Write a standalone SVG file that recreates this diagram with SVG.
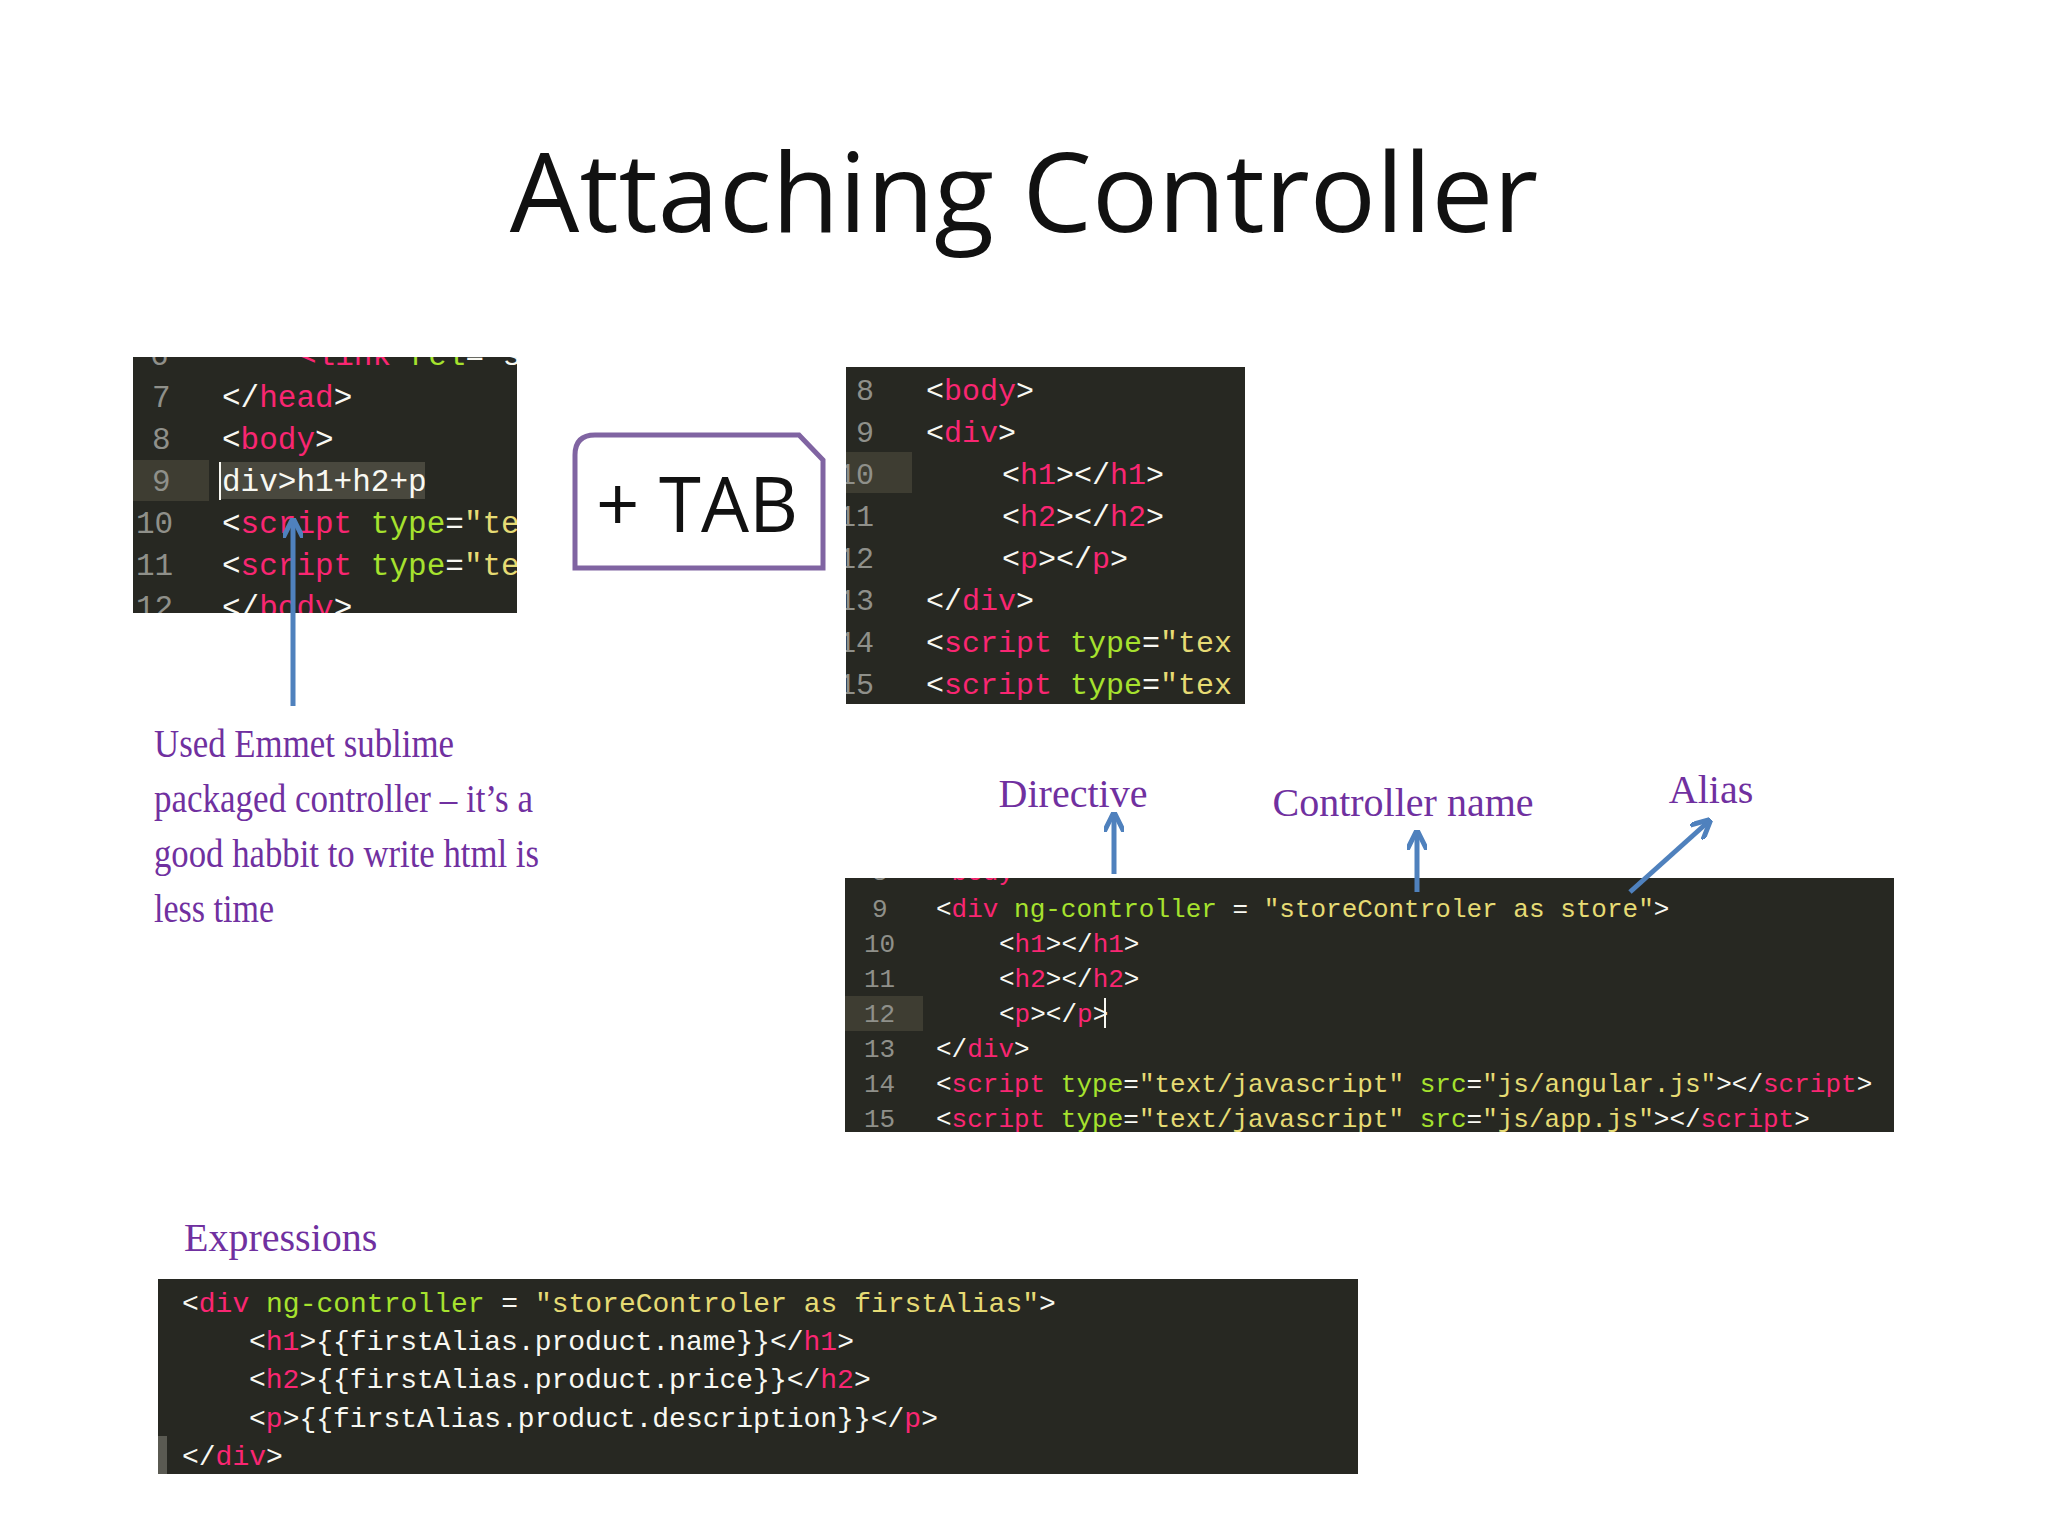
<svg xmlns="http://www.w3.org/2000/svg" width="2048" height="1536" viewBox="0 0 2048 1536">
<style>
.bg{fill:#272822}
.c{font-family:"Liberation Mono","DejaVu Sans Mono",monospace;fill:#f8f8f2}
.t{fill:#f92672}.a{fill:#a6e22e}.s{fill:#e6db74}.n{fill:#8f908a}
.lbl{font-family:"Liberation Serif",serif;fill:#7030a0;font-size:40px}
.arr{stroke:#4f81bd;stroke-width:5;fill:none;marker-end:url(#ah)}
</style>
<defs>
<marker id="ah" viewBox="0 0 10 10" refX="8" refY="5" markerWidth="4" markerHeight="4" orient="auto"><path d="M0,0 L10,5 L0,10" fill="none" stroke="#4f81bd" stroke-width="2.5"/></marker>
<clipPath id="c1"><rect x="133" y="357" width="384" height="256"/></clipPath>
<clipPath id="c2"><rect x="846" y="367" width="399" height="337"/></clipPath>
<clipPath id="c3"><rect x="845" y="878" width="1049" height="254"/></clipPath>
<clipPath id="c4"><rect x="158" y="1279" width="1200" height="195"/></clipPath>
</defs>
<rect width="2048" height="1536" fill="#fff"/>
<text x="1024" y="232" text-anchor="middle" font-family="Open Sans,Liberation Sans,sans-serif" font-size="110" fill="#111">Attaching Controller</text>

<g id="panel1" clip-path="url(#c1)">
<rect class="bg" x="133" y="357" width="384" height="256"/>
<rect x="133" y="460" width="76" height="41" fill="#3e3d32"/>
<rect x="220" y="462" width="205" height="37" fill="#49483e"/>
<rect x="219" y="462" width="2" height="38" fill="#f8f8f2"/>
<g class="c" font-size="31">
<text x="150" y="365" class="n">6</text><text x="298" y="365"><tspan class="t">&lt;link</tspan> <tspan class="a">rel</tspan>="s</text>
<text x="152" y="407" class="n">7</text><text x="222" y="407">&lt;/<tspan class="t">head</tspan>&gt;</text>
<text x="152" y="449" class="n">8</text><text x="222" y="449">&lt;<tspan class="t">body</tspan>&gt;</text>
<text x="152" y="491" class="n">9</text><text x="222" y="491">div&gt;h1+h2+p</text>
<text x="136" y="533" class="n">10</text><text x="222" y="533">&lt;<tspan class="t">script</tspan> <tspan class="a">type</tspan>=<tspan class="s">"te</tspan></text>
<text x="136" y="575" class="n">11</text><text x="222" y="575">&lt;<tspan class="t">script</tspan> <tspan class="a">type</tspan>=<tspan class="s">"te</tspan></text>
<text x="136" y="617" class="n">12</text><text x="222" y="617">&lt;/<tspan class="t">body</tspan>&gt;</text>
</g>
</g>

<g id="tab">
<path d="M575,568 L575,455 Q575,435 595,435 L799,435 L823,460 L823,568 Z" fill="#fff" stroke="#8064a2" stroke-width="5"/>
<text x="697" y="532" text-anchor="middle" font-family="Open Sans,Liberation Sans,sans-serif" font-size="76" fill="#111">+ TAB</text>
</g>

<g id="panel2" clip-path="url(#c2)">
<rect class="bg" x="846" y="367" width="399" height="337"/>
<rect x="846" y="452" width="66" height="41" fill="#3e3d32"/>
<g class="c" font-size="30">
<text x="856" y="400" class="n">8</text><text x="926" y="400">&lt;<tspan class="t">body</tspan>&gt;</text>
<text x="856" y="442" class="n">9</text><text x="926" y="442">&lt;<tspan class="t">div</tspan>&gt;</text>
<text x="838" y="484" class="n">10</text><text x="1002" y="484">&lt;<tspan class="t">h1</tspan>&gt;&lt;/<tspan class="t">h1</tspan>&gt;</text>
<text x="838" y="526" class="n">11</text><text x="1002" y="526">&lt;<tspan class="t">h2</tspan>&gt;&lt;/<tspan class="t">h2</tspan>&gt;</text>
<text x="838" y="568" class="n">12</text><text x="1002" y="568">&lt;<tspan class="t">p</tspan>&gt;&lt;/<tspan class="t">p</tspan>&gt;</text>
<text x="838" y="610" class="n">13</text><text x="926" y="610">&lt;/<tspan class="t">div</tspan>&gt;</text>
<text x="838" y="652" class="n">14</text><text x="926" y="652">&lt;<tspan class="t">script</tspan> <tspan class="a">type</tspan>=<tspan class="s">"tex</tspan></text>
<text x="838" y="694" class="n">15</text><text x="926" y="694">&lt;<tspan class="t">script</tspan> <tspan class="a">type</tspan>=<tspan class="s">"tex</tspan></text>
</g>
</g>

<g id="note1">
<text class="lbl" x="154" y="757" textLength="300" lengthAdjust="spacingAndGlyphs">Used Emmet sublime</text>
<text class="lbl" x="154" y="812" textLength="379" lengthAdjust="spacingAndGlyphs">packaged controller – it’s a</text>
<text class="lbl" x="154" y="867" textLength="385" lengthAdjust="spacingAndGlyphs">good habbit to write html is</text>
<text class="lbl" x="154" y="922" textLength="120" lengthAdjust="spacingAndGlyphs">less time</text>
</g>
<g id="directive"><text class="lbl" x="1073" y="807" text-anchor="middle">Directive</text></g>
<g id="ctrlname"><text class="lbl" x="1403" y="816" text-anchor="middle">Controller name</text></g>
<g id="alias"><text class="lbl" x="1711" y="803" text-anchor="middle">Alias</text></g>

<g id="panel3" clip-path="url(#c3)">
<rect class="bg" x="845" y="878" width="1049" height="254"/>
<rect x="845" y="996" width="78" height="35" fill="#3e3d32"/>
<rect x="1104" y="998" width="2" height="30" fill="#f8f8f2"/>
<g class="c" font-size="26">
<text x="872" y="880" class="n">8</text><text x="936" y="880">&lt;<tspan class="t">body</tspan>&gt;</text>
<text x="872" y="917" class="n">9</text><text x="936" y="917">&lt;<tspan class="t">div</tspan> <tspan class="a">ng-controller</tspan> = <tspan class="s">"storeControler as store"</tspan>&gt;</text>
<text x="864" y="952" class="n">10</text><text x="999" y="952">&lt;<tspan class="t">h1</tspan>&gt;&lt;/<tspan class="t">h1</tspan>&gt;</text>
<text x="864" y="987" class="n">11</text><text x="999" y="987">&lt;<tspan class="t">h2</tspan>&gt;&lt;/<tspan class="t">h2</tspan>&gt;</text>
<text x="864" y="1022" class="n">12</text><text x="999" y="1022">&lt;<tspan class="t">p</tspan>&gt;&lt;/<tspan class="t">p</tspan>&gt;</text>
<text x="864" y="1057" class="n">13</text><text x="936" y="1057">&lt;/<tspan class="t">div</tspan>&gt;</text>
<text x="864" y="1092" class="n">14</text><text x="936" y="1092">&lt;<tspan class="t">script</tspan> <tspan class="a">type</tspan>=<tspan class="s">"text/javascript"</tspan> <tspan class="a">src</tspan>=<tspan class="s">"js/angular.js"</tspan>&gt;&lt;/<tspan class="t">script</tspan>&gt;</text>
<text x="864" y="1127" class="n">15</text><text x="936" y="1127">&lt;<tspan class="t">script</tspan> <tspan class="a">type</tspan>=<tspan class="s">"text/javascript"</tspan> <tspan class="a">src</tspan>=<tspan class="s">"js/app.js"</tspan>&gt;&lt;/<tspan class="t">script</tspan>&gt;</text>
</g>
</g>

<g id="expr"><text class="lbl" x="184" y="1251">Expressions</text></g>
<g id="panel4" clip-path="url(#c4)">
<rect class="bg" x="158" y="1279" width="1200" height="195"/>
<rect x="158" y="1436" width="9" height="38" fill="#5a5a52"/>
<g class="c" font-size="28">
<text x="182" y="1312">&lt;<tspan class="t">div</tspan> <tspan class="a">ng-controller</tspan> = <tspan class="s">"storeControler as firstAlias"</tspan>&gt;</text>
<text x="249" y="1350">&lt;<tspan class="t">h1</tspan>&gt;{{firstAlias.product.name}}&lt;/<tspan class="t">h1</tspan>&gt;</text>
<text x="249" y="1388">&lt;<tspan class="t">h2</tspan>&gt;{{firstAlias.product.price}}&lt;/<tspan class="t">h2</tspan>&gt;</text>
<text x="249" y="1427">&lt;<tspan class="t">p</tspan>&gt;{{firstAlias.product.description}}&lt;/<tspan class="t">p</tspan>&gt;</text>
<text x="182" y="1465">&lt;/<tspan class="t">div</tspan>&gt;</text>
</g>
</g>

<g id="connectors">
<line class="arr" x1="293" y1="706" x2="293" y2="522"/>
<line class="arr" x1="1114" y1="874" x2="1114" y2="816"/>
<line class="arr" x1="1417" y1="892" x2="1417" y2="834"/>
<line class="arr" x1="1630" y1="892" x2="1708" y2="822"/>
</g>
</svg>
